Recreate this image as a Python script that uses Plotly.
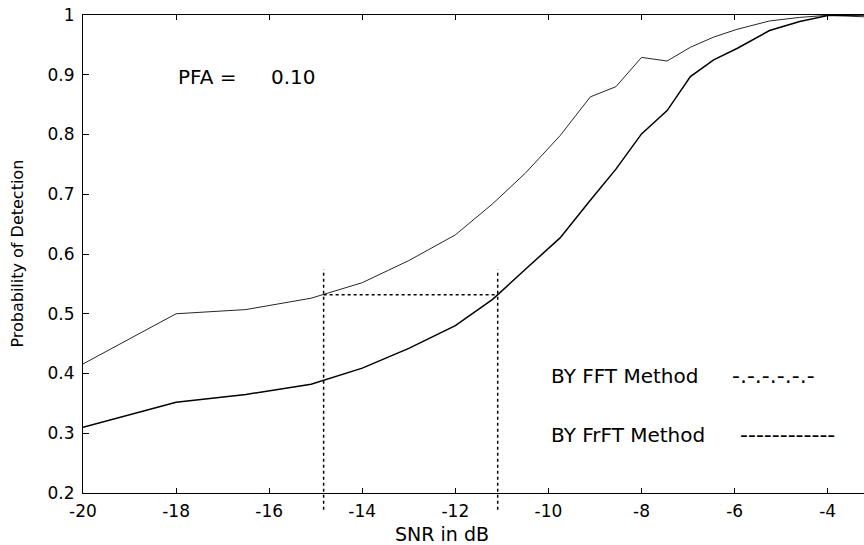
import plotly.graph_objects as go

# ---- data ----
snr_db = [-20, -18, -16.5, -15.1, -14, -13, -12, -11.2, -10.5, -9.75, -9.1,
          -8.55, -8, -7.45, -6.95, -6.45, -5.95, -5.25, -4.6, -4, -3.22]
pd_fft = [0.416, 0.500, 0.507, 0.526, 0.552, 0.589, 0.632, 0.684, 0.735, 0.798, 0.863,
          0.880, 0.929, 0.923, 0.946, 0.963, 0.976, 0.990, 0.996, 0.9995, 0.997]
pd_frft = [0.310, 0.352, 0.365, 0.382, 0.409, 0.442, 0.480, 0.524, 0.574, 0.627, 0.690,
           0.742, 0.801, 0.840, 0.897, 0.925, 0.944, 0.974, 0.989, 0.999, 1.000]

x_ticks = [-20, -18, -16, -14, -12, -10, -8, -6, -4]
x_tick_labels = ["-20", "-18", "-16", "-14", "-12", "-10", "-8", "-6", "-4"]
y_ticks = [0.2, 0.3, 0.4, 0.5, 0.6, 0.7, 0.8, 0.9, 1.0]
y_tick_labels = ["0.2", "0.3", "0.4", "0.5", "0.6", "0.7", "0.8", "0.9", "1"]

# guide lines (dotted): equal Pd comparison
guide_x = [-14.83, -11.09]
guide_y_level = 0.532
guide_y_span = [0.172, 0.574]

x_range = [-20, -3.22]
y_range = [0.2, 1.0]

FONT = "DejaVu Sans"

fig = go.Figure()
fig.add_trace(go.Scatter(x=snr_db, y=pd_fft, mode="lines",
                         line=dict(color="#262626", width=1), name="BY FFT Method"))
fig.add_trace(go.Scatter(x=snr_db, y=pd_frft, mode="lines",
                         line=dict(color="#000000", width=1.5), name="BY FrFT Method"))


def ypaper(v):
    return (v - y_range[0]) / (y_range[1] - y_range[0])


dot = dict(color="#000000", width=1.5, dash="dot")
for gx in guide_x:
    fig.add_shape(type="line", xref="x", yref="paper", x0=gx, x1=gx,
                  y0=ypaper(guide_y_span[0]), y1=ypaper(guide_y_span[1]), line=dot)
fig.add_shape(type="line", xref="x", yref="y", x0=guide_x[0], x1=guide_x[1],
              y0=guide_y_level, y1=guide_y_level, line=dot)

ann_font = dict(family=FONT, size=20, color="#000000")
dash_font = dict(family=FONT, size=22, color="#000000")
fig.add_annotation(x=-18.0, y=0.897, xref="x", yref="y", text="PFA =",
                   showarrow=False, xanchor="left", yanchor="middle", font=ann_font)
fig.add_annotation(x=-16.0, y=0.897, xref="x", yref="y", text="0.10",
                   showarrow=False, xanchor="left", yanchor="middle", font=ann_font)
fig.add_annotation(x=-9.98, y=0.396, xref="x", yref="y", text="BY FFT Method",
                   showarrow=False, xanchor="left", yanchor="middle", font=ann_font)
fig.add_annotation(x=-6.09, y=0.396, xref="x", yref="y", text="-.-.-.-.-.-",
                   showarrow=False, xanchor="left", yanchor="middle", font=dash_font)
fig.add_annotation(x=-9.98, y=0.2975, xref="x", yref="y", text="BY FrFT Method",
                   showarrow=False, xanchor="left", yanchor="middle", font=ann_font)
fig.add_annotation(x=-5.92, y=0.2975, xref="x", yref="y", text="------------",
                   showarrow=False, xanchor="left", yanchor="middle", font=dash_font)

# axis titles
fig.add_annotation(x=0.46, y=-0.085, xref="paper", yref="paper", text="SNR in dB",
                   showarrow=False, xanchor="center", yanchor="middle",
                   font=dict(family=FONT, size=19, color="#000000"))
fig.add_annotation(x=-0.085, y=0.5, xref="paper", yref="paper", text="Probability of Detection",
                   textangle=-90, showarrow=False, xanchor="center", yanchor="middle",
                   font=dict(family=FONT, size=16, color="#000000"))

fig.update_layout(
    width=864, height=545,
    margin=dict(l=83, r=0, t=15, b=52),
    paper_bgcolor="white", plot_bgcolor="white",
    showlegend=False,
    font=dict(family=FONT, size=16, color="#000000"),
)
fig.update_xaxes(range=x_range, tickvals=x_ticks, ticktext=x_tick_labels,
                 showgrid=False, zeroline=False, showline=True, linecolor="black",
                 linewidth=1.2, mirror="ticks", ticks="inside", ticklen=5,
                 tickcolor="black", tickwidth=1, ticklabelstandoff=2,
                 tickfont=dict(family=FONT, size=17, color="black"))
fig.update_yaxes(range=y_range, tickvals=y_ticks, ticktext=y_tick_labels,
                 showgrid=False, zeroline=False, showline=True, linecolor="black",
                 linewidth=1.2, ticks="inside", ticklen=6, tickcolor="black",
                 tickwidth=1, ticklabelstandoff=4,
                 tickfont=dict(family=FONT, size=17, color="black"))

fig.write_html("out.html")
